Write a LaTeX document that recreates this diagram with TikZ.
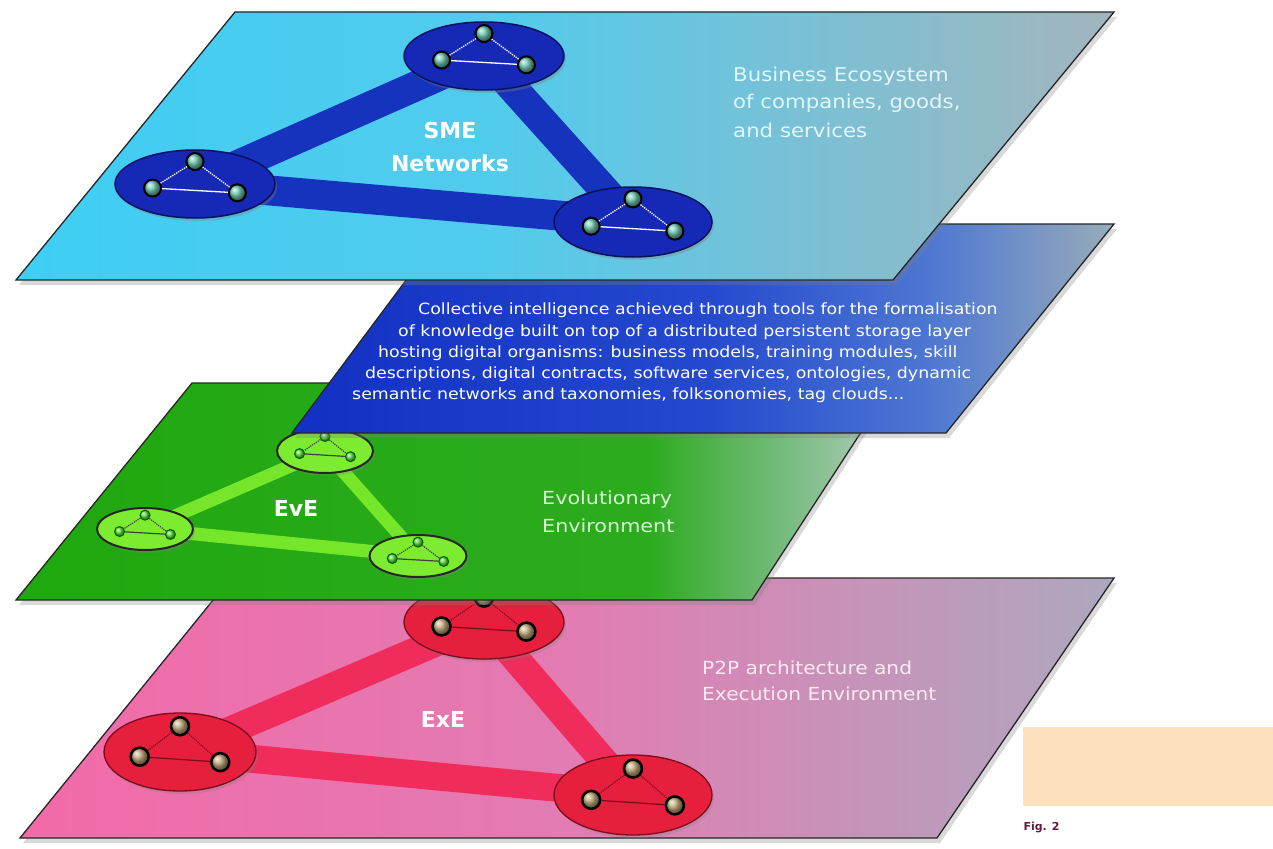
\documentclass[tikz,border=0pt]{standalone}
\usepackage{fontspec}
\usepackage{graphicx}
\setmainfont{DejaVu Sans}
\usetikzlibrary{shapes.geometric,shadows,calc}

\definecolor{cyanA}{HTML}{3ECEF4}
\definecolor{cyanB}{HTML}{52CBEC}
\definecolor{cyanC}{HTML}{A2B5BD}
\definecolor{blueA}{HTML}{1230C4}
\definecolor{blueB}{HTML}{2448CE}
\definecolor{blueC}{HTML}{4E78D2}
\definecolor{blueD}{HTML}{98ACBA}
\definecolor{greenA}{HTML}{1FA80F}
\definecolor{greenB}{HTML}{2DAB1E}
\definecolor{greenC}{HTML}{78BC80}
\definecolor{greenD}{HTML}{B2CCC0}
\definecolor{pinkA}{HTML}{F26AA8}
\definecolor{pinkB}{HTML}{E27CB2}
\definecolor{pinkC}{HTML}{ADA8BE}
\definecolor{sEll}{HTML}{1529B6}
\definecolor{sEllD}{HTML}{08125E}
\definecolor{sLink}{HTML}{1533BC}
\definecolor{sBall}{HTML}{6CC8B0}
\definecolor{gEll}{HTML}{7DEB2F}
\definecolor{gLink}{HTML}{76E62A}
\definecolor{gBall}{HTML}{5CE038}
\definecolor{rEll}{HTML}{E61F3D}
\definecolor{rEllD}{HTML}{7A0C1C}
\definecolor{rLink}{HTML}{F02C5C}
\definecolor{rBall}{HTML}{C0A878}
\definecolor{orangeBox}{HTML}{FDE1BD}
\definecolor{figC}{HTML}{6A1A3C}
\definecolor{topTxt}{HTML}{E2F6FF}
\definecolor{grnTxt}{HTML}{D8F4D8}
\definecolor{pnkTxt}{HTML}{FFEAF4}

\pgfdeclarehorizontalshading{cyanshade}{100bp}{color(0bp)=(cyanA); color(25bp)=(cyanA); color(47bp)=(cyanB); color(75bp)=(cyanC); color(100bp)=(cyanC)}
\pgfdeclarehorizontalshading{blueshade}{100bp}{color(0bp)=(blueA); color(25bp)=(blueA); color(50bp)=(blueB); color(64bp)=(blueC); color(75bp)=(blueD); color(100bp)=(blueD)}
\pgfdeclarehorizontalshading{greenshade}{100bp}{color(0bp)=(greenA); color(25bp)=(greenA); color(61bp)=(greenB); color(69bp)=(greenC); color(75bp)=(greenD); color(100bp)=(greenD)}
\pgfdeclarehorizontalshading{pinkshade}{100bp}{color(0bp)=(pinkA); color(25bp)=(pinkA); color(50bp)=(pinkB); color(75bp)=(pinkC); color(100bp)=(pinkC)}

\pgfdeclarelayer{pA}\pgfdeclarelayer{pB}\pgfdeclarelayer{pC}
\pgfdeclarelayer{gA}\pgfdeclarelayer{gB}\pgfdeclarelayer{gC}
\pgfdeclarelayer{bA}
\pgfdeclarelayer{cA}\pgfdeclarelayer{cB}\pgfdeclarelayer{cC}
\pgfsetlayers{pA,pB,pC,gA,gB,gC,bA,cA,cB,cC,main}

\newcommand\wide[2]{\scalebox{#1}[1]{#2}}

\tikzset{
  plane/.style={draw=black!85, line width=1.3,
    drop shadow={shadow xshift=3pt, shadow yshift=-5pt, opacity=.3}},
  bigLbl/.style={text=white, font=\bfseries\fontsize{22}{26}\selectfont},
  topLbl/.style={text=topTxt, anchor=west, inner sep=0, font=\fontsize{19}{22}\selectfont},
  grnLbl/.style={text=grnTxt, anchor=west, inner sep=0, font=\fontsize{18}{21}\selectfont},
  pnkLbl/.style={text=pnkTxt, anchor=west, inner sep=0, font=\fontsize{18}{21}\selectfont},
  bluLbl/.style={text=white, anchor=west, inner sep=0, font=\fontsize{15.5}{18}\selectfont},
  blueell/.style={ellipse, inner sep=0, fill=sEll, draw=sEllD, line width=1.5,
    drop shadow={shadow xshift=2pt, shadow yshift=-3pt, opacity=.35}},
  blueball/.style={circle, inner sep=0, minimum size=17, ball color=sBall, draw=black, line width=2},
  bluewire/.style={draw=white, line width=1.3},
  bluelink/.style={draw=sLink, line width=30},
  greenell/.style={ellipse, inner sep=0, fill=gEll, draw=black!85, line width=2,
    drop shadow={shadow xshift=2pt, shadow yshift=-3pt, opacity=.3}},
  greenball/.style={circle, inner sep=0, minimum size=10, ball color=gBall, draw=black!60!green, line width=1},
  greenwire/.style={draw=black!75, line width=1.2},
  greenlink/.style={draw=gLink, line width=13},
  redell/.style={ellipse, inner sep=0, fill=rEll, draw=rEllD, line width=1.3,
    drop shadow={shadow xshift=2pt, shadow yshift=-3pt, opacity=.3}},
  redball/.style={circle, inner sep=0, minimum size=18, ball color=rBall, draw=black, line width=2.5},
  redwire/.style={draw=rEllD, line width=1.2},
  redlink/.style={draw=rLink, line width=28},
}

% cluster: name, x, y, width, height, kind
\newcommand\netc[6]{%
  \node[#6ell, minimum width=#4, minimum height=#5] (#1) at (#2,#3) {};
  \node[#6ball] (#1t) at ($(#1.center)+(0,-0.33*#5)$) {};
  \node[#6ball] (#1l) at ($(#1.center)+(-0.265*#4,0.06*#5)$) {};
  \node[#6ball] (#1r) at ($(#1.center)+(0.265*#4,0.13*#5)$) {};
  \draw[#6wire, densely dotted] (#1t) -- (#1l);
  \draw[#6wire, densely dotted] (#1t) -- (#1r);
  \draw[#6wire] (#1l) -- (#1r);
}

\begin{document}
\begin{tikzpicture}[x=1pt, y=-1pt]
\useasboundingbox (0,0) rectangle (1273,848);

% ---------- pink plane (ExE) ----------
\begin{pgfonlayer}{pA}
  \path[plane, shading=pinkshade] (231,578) -- (1114,578) -- (937,838) -- (20,838) -- cycle;
\end{pgfonlayer}
\begin{pgfonlayer}{pC}
  \netc{rT}{484}{622}{160}{74}{red}
  \netc{rL}{180}{752}{152}{78}{red}
  \netc{rR}{633}{795}{158}{80}{red}
  \node[bigLbl] (exe) at (443,719) {ExE};
  \node[pnkLbl] (p2p1) at (702,668) {\wide{1.12}{P2P architecture and}};
  \node[pnkLbl] (p2p2) at (702,694) {\wide{1.12}{Execution Environment}};
\end{pgfonlayer}
\begin{pgfonlayer}{pB}
  \draw[redlink] (rT.center) -- (rL.center);
  \draw[redlink] (rT.center) -- (rR.center);
  \draw[redlink] (rL.center) -- (rR.center);
\end{pgfonlayer}

% ---------- green plane (EvE) ----------
\begin{pgfonlayer}{gA}
  \path[plane, shading=greenshade] (192,383) -- (893,383) -- (752,600) -- (16,600) -- cycle;
\end{pgfonlayer}
\begin{pgfonlayer}{gC}
  \netc{gT}{325}{451}{96}{44}{green}
  \netc{gL}{145}{529}{96}{42}{green}
  \netc{gR}{418}{556}{97}{42}{green}
  \node[bigLbl] (eve) at (296,508) {EvE};
  \node[grnLbl] (evo1) at (542,500) {\wide{1.15}{Evolutionary}};
  \node[grnLbl] (evo2) at (542,526) {\wide{1.15}{Environment}};
\end{pgfonlayer}
\begin{pgfonlayer}{gB}
  \draw[greenlink] (gT.center) -- (gL.center);
  \draw[greenlink] (gT.center) -- (gR.center);
  \draw[greenlink] (gL.center) -- (gR.center);
\end{pgfonlayer}

% ---------- blue plane (collective intelligence) ----------
\begin{pgfonlayer}{bA}
  \path[plane, shading=blueshade] (448,224) -- (1114,224) -- (946,433) -- (292,433) -- cycle;
  \node[bluLbl] (ci1) at (418,310) {\wide{1.12}{Collective intelligence achieved through tools for the formalisation}};
  \node[bluLbl] (ci2) at (398,332) {\wide{1.12}{of knowledge built on top of a distributed persistent storage layer}};
  \node[bluLbl] (ci3) at (378,353) {\wide{1.12}{hosting digital organisms: business models, training modules, skill}};
  \node[bluLbl] (ci4) at (365,374) {\wide{1.12}{descriptions, digital contracts, software services, ontologies, dynamic}};
  \node[bluLbl] (ci5) at (352,395) {\wide{1.12}{semantic networks and taxonomies, folksonomies, tag clouds...}};
\end{pgfonlayer}

% ---------- cyan plane (SME) ----------
\begin{pgfonlayer}{cA}
  \path[plane, shading=cyanshade] (235,12) -- (1114,12) -- (893,280) -- (16,280) -- cycle;
\end{pgfonlayer}
\begin{pgfonlayer}{cC}
  \netc{sT}{484}{56}{160}{68}{blue}
  \netc{sL}{195}{184}{160}{68}{blue}
  \netc{sR}{633}{222}{158}{70}{blue}
  \node[bigLbl] (sme1) at (450,130) {SME};
  \node[bigLbl] (sme2) at (450,163) {Networks};
  \node[topLbl] (be1) at (733,76) {\wide{1.12}{Business Ecosystem}};
  \node[topLbl] (be2) at (733,103) {\wide{1.12}{of companies, goods,}};
  \node[topLbl] (be3) at (733,130) {\wide{1.12}{and services}};
\end{pgfonlayer}
\begin{pgfonlayer}{cB}
  \draw[bluelink] (sT.center) -- (sL.center);
  \draw[bluelink] (sT.center) -- (sR.center);
  \draw[bluelink] (sL.center) -- (sR.center);
\end{pgfonlayer}

% ---------- caption ----------
\fill[orangeBox] (1023,727) rectangle (1273,806);
\node[anchor=west, text=figC, font=\bfseries\fontsize{11}{13}\selectfont] (fig) at (1020,827) {Fig. 2};
\end{tikzpicture}
\end{document}
